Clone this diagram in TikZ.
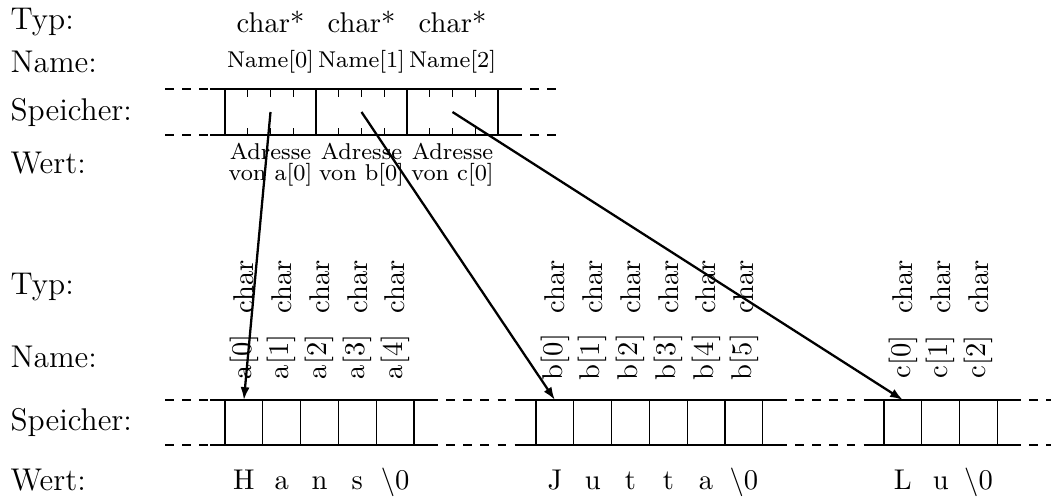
\documentclass[tikz,border=0pt]{standalone}
\usetikzlibrary{arrows.meta}
\begin{document}
\begin{tikzpicture}[x=0.35pt,y=-0.35pt,
  lbl/.style={anchor=west,inner sep=0pt,font=\fontsize{11}{13}\selectfont},
  typ/.style={inner sep=0pt,font=\fontsize{10}{12}\selectfont},
  nm/.style={inner sep=0pt,font=\fontsize{8}{9.5}\selectfont},
  nmb/.style={inner sep=0pt,anchor=base,font=\fontsize{8}{9.5}\selectfont},
  rot/.style={inner sep=0pt,rotate=90,font=\fontsize{10}{12}\selectfont},
  val/.style={inner sep=0pt,anchor=base,font=\fontsize{10}{12}\selectfont},
  pcell/.style={inner sep=0pt,outer sep=0pt,minimum width=31.85pt,minimum height=16.1pt},
  bcell/.style={inner sep=0pt,outer sep=0pt,minimum width=13.23pt,minimum height=15.75pt},
  ptr/.style={thick,-{Latex[length=4.5pt,width=3.2pt]}}]
\useasboundingbox (0,0) rectangle (1051,497);

% ---------- top: array of pointers ----------
\node[lbl] (tTyp) at (10,22) {Typ:};
\node[lbl] (tName) at (10,62) {Name:};
\node[lbl] (tSp) at (10,112) {Speicher:};
\node[lbl] (tWert) at (10,163) {Wert:};

\draw[dashed] (165,89) -- (210,89) (513,89) -- (558,89);
\draw[dashed] (165,135) -- (210,135) (513,135) -- (558,135);
\draw (210,89) -- (513,89) (210,135) -- (513,135);

\foreach \i/\l in {0/a,1/b,2/c}{
  \pgfmathsetmacro{\x}{225+91*\i+45.5}
  \node[pcell] (p\i) at (\x,112) {};
  \draw (p\i.north west) -- (p\i.south west);
  \node[typ] (pt\i) at (\x,22) {char*};
  \node[nm] (pn\i) at (\x,62) {Name[\i]};
  \node[nmb] (pa\i) at (\x,160) {Adresse};
  \node[nmb] (pb\i) at (\x,181) {von \l[0]};
  \foreach \k in {-1,0,1}{
    \draw ([xshift=\k*7.9625pt]p\i.north) -- ++(0,8);
    \draw ([xshift=\k*7.9625pt]p\i.south) -- ++(0,-7);
  }
}
\draw (p2.north east) -- (p2.south east);

% ---------- bottom: char arrays ----------
\node[lbl] (bTyp) at (10,287) {Typ:};
\node[lbl] (bName) at (10,357) {Name:};
\node[lbl] (bSp) at (10,422.5) {Speicher:};
\node[lbl] (bWert) at (10,480) {Wert:};

\draw[dashed] (165,400) -- (210,400) (429,400) -- (521,400) (778,400) -- (869,400) (1012,400) -- (1051,400);
\draw[dashed] (165,445) -- (210,445) (429,445) -- (521,445) (778,445) -- (869,445) (1012,445) -- (1051,445);
\draw (210,400) -- (429,400) (521,400) -- (778,400) (869,400) -- (1012,400);
\draw (210,445) -- (429,445) (521,445) -- (778,445) (869,445) -- (1012,445);

\foreach \i/\v in {0/H,1/a,2/n,3/s,4/{\textbackslash 0}}{
  \pgfmathsetmacro{\x}{225+37.8*\i+18.9}
  \node[bcell] (a\i) at (\x,422.5) {};
  \draw (a\i.north west) -- (a\i.south west);
  \node[rot] (at\i) at (\x,287) {char};
  \node[rot] (an\i) at (\x,357) {a[\i]};
  \node[val] (av\i) at (\x,490) {\v};
}
\draw (a4.north east) -- (a4.south east);
\foreach \i/\v in {0/J,1/u,2/t,3/t,4/a,5/{\textbackslash 0}}{
  \pgfmathsetmacro{\x}{536+37.8*\i+18.9}
  \node[bcell] (b\i) at (\x,422.5) {};
  \draw (b\i.north west) -- (b\i.south west);
  \node[rot] (bt\i) at (\x,287) {char};
  \node[rot] (bn\i) at (\x,357) {b[\i]};
  \node[val] (bv\i) at (\x,490) {\v};
}
\draw (b5.north east) -- (b5.south east);
\foreach \i/\v in {0/L,1/u,2/{\textbackslash 0}}{
  \pgfmathsetmacro{\x}{884+37.8*\i+18.9}
  \node[bcell] (c\i) at (\x,422.5) {};
  \draw (c\i.north west) -- (c\i.south west);
  \node[rot] (ct\i) at (\x,287) {char};
  \node[rot] (cn\i) at (\x,357) {c[\i]};
  \node[val] (cv\i) at (\x,490) {\v};
}
\draw (c2.north east) -- (c2.south east);

% ---------- pointers ----------
\draw[ptr] (p0.center) -- (a0.north);
\draw[ptr] (p1.center) -- (b0.north);
\draw[ptr] (p2.center) -- (c0.north);
\end{tikzpicture}
\end{document}
